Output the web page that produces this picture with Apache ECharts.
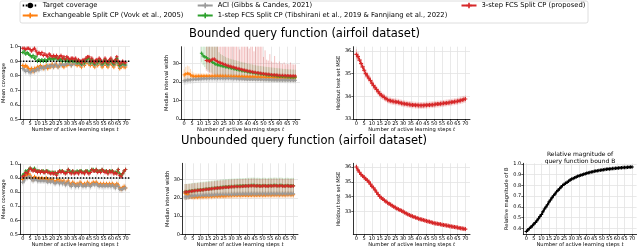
<!DOCTYPE html>
<html><head><meta charset="utf-8">
<script src="https://cdn.jsdelivr.net/npm/echarts@6/dist/echarts.min.js"></script>
<style>html,body{margin:0;padding:0;background:#fff}#c{width:640px;height:248px}</style>
</head><body><div id="c"></div>
<script>
const tSteps = [0,1,2,3,4,5,6,7,8,9,10,11,12,13,14,15,16,17,18,19,20,21,22,23,24,25,26,27,28,29,30,31,32,33,34,35,36,37,38,39,40,41,42,43,44,45,46,47,48,49,50,51,52,53,54,55,56,57,58,59,60,61,62,63,64,65,66,67,68,69,70];
const xTicks = [0,5,10,15,20,25,30,35,40,45,50,55,60,65,70];
const covTicks = [0.5,0.6,0.7,0.8,0.9,1.0];
const widthTicks = [0,10,20,30];
const mseTicks = [33,34,35,36];
const relTicks = [0.4,0.5,0.6,0.7,0.8,0.9,1.0];
const targetCoverage = 0.9;

const N_TARGET = 'Target coverage';
const N_EXCH = 'Exchangeable Split CP (Vovk et al., 2005)';
const N_ACI = 'ACI (Gibbs & Candes, 2021)';
const N_ONE = '1-step FCS Split CP (Tibshirani et al., 2019 & Fannjiang et al., 2022)';
const N_THREE = '3-step FCS Split CP (proposed)';

// ---- Bounded: mean coverage
const covB_orange = [0.87,0.86,0.87,0.86,0.85,0.84,0.85,0.83,0.85,0.84,0.86,0.85,0.87,0.86,0.85,0.86,0.87,0.85,0.87,0.86,0.88,0.86,0.87,0.88,0.86,0.87,0.88,0.87,0.86,0.88,0.87,0.88,0.89,0.87,0.88,0.89,0.88,0.87,0.88,0.87,0.86,0.88,0.87,0.89,0.90,0.88,0.87,0.89,0.87,0.86,0.88,0.87,0.89,0.88,0.86,0.87,0.89,0.87,0.86,0.88,0.89,0.87,0.86,0.88,0.90,0.87,0.85,0.86,0.87,0.86,0.86];
const covB_gray = [0.85,0.84,0.83,0.84,0.83,0.82,0.83,0.84,0.83,0.84,0.85,0.84,0.86,0.85,0.86,0.85,0.86,0.87,0.86,0.87,0.87,0.86,0.88,0.87,0.86,0.88,0.87,0.88,0.87,0.88,0.88,0.89,0.88,0.87,0.89,0.88,0.89,0.88,0.89,0.88,0.87,0.89,0.88,0.90,0.90,0.89,0.88,0.90,0.88,0.87,0.89,0.88,0.90,0.89,0.87,0.88,0.90,0.88,0.87,0.89,0.90,0.88,0.87,0.89,0.90,0.88,0.86,0.87,0.88,0.87,0.87];
const covB_green = [0.96,0.97,0.95,0.96,0.95,0.94,0.93,0.94,0.92,0.93,0.90,0.91,0.90,0.91,0.90,0.91,0.90,0.91,0.92,0.91,0.92,0.91,0.92,0.93,0.91,0.92,0.91,0.90,0.92,0.90,0.91,0.90,0.90,0.91,0.90,0.90,0.91,0.89,0.90,0.89,0.88,0.90,0.89,0.91,0.92,0.92,0.89,0.91,0.89,0.88,0.90,0.89,0.91,0.90,0.88,0.89,0.91,0.89,0.88,0.90,0.91,0.89,0.88,0.90,0.92,0.89,0.87,0.88,0.89,0.88,0.88];
const covB_red = [0.99,0.99,0.98,0.99,0.99,0.98,0.97,0.98,0.99,0.97,0.95,0.96,0.95,0.96,0.94,0.95,0.94,0.93,0.95,0.94,0.93,0.94,0.93,0.94,0.92,0.93,0.94,0.92,0.93,0.91,0.93,0.92,0.91,0.92,0.92,0.91,0.92,0.90,0.91,0.90,0.89,0.91,0.90,0.92,0.93,0.93,0.90,0.92,0.90,0.89,0.91,0.90,0.92,0.91,0.89,0.90,0.92,0.90,0.89,0.91,0.92,0.90,0.89,0.91,0.93,0.90,0.88,0.89,0.90,0.89,0.89];
const covBErr_orange = [0.018,0.019,0.018,0.019,0.020,0.020,0.019,0.021,0.020,0.019,0.018,0.019,0.018,0.018,0.019,0.018,0.017,0.018,0.017,0.018,0.017,0.018,0.017,0.017,0.018,0.017,0.017,0.018,0.018,0.017,0.017,0.017,0.016,0.017,0.017,0.016,0.017,0.017,0.017,0.017,0.018,0.017,0.017,0.016,0.016,0.017,0.017,0.016,0.017,0.018,0.017,0.017,0.016,0.017,0.018,0.017,0.016,0.017,0.018,0.017,0.016,0.017,0.018,0.017,0.016,0.017,0.018,0.018,0.017,0.018,0.018];
const covBErr_gray = [0.022,0.024,0.026,0.025,0.026,0.027,0.026,0.025,0.025,0.024,0.023,0.023,0.022,0.022,0.022,0.021,0.021,0.020,0.021,0.020,0.020,0.020,0.019,0.020,0.020,0.019,0.019,0.019,0.019,0.019,0.019,0.018,0.019,0.019,0.018,0.018,0.018,0.018,0.018,0.018,0.019,0.018,0.018,0.017,0.017,0.018,0.018,0.017,0.018,0.019,0.018,0.018,0.017,0.018,0.019,0.018,0.017,0.018,0.019,0.018,0.017,0.018,0.019,0.018,0.017,0.018,0.019,0.019,0.018,0.019,0.019];
const covBErr_green = [0.010,0.010,0.011,0.010,0.011,0.012,0.012,0.011,0.013,0.012,0.014,0.013,0.014,0.013,0.014,0.014,0.015,0.014,0.014,0.015,0.014,0.015,0.014,0.014,0.015,0.015,0.014,0.016,0.015,0.015,0.015,0.016,0.015,0.015,0.016,0.016,0.015,0.016,0.016,0.016,0.016,0.016,0.015,0.016,0.015,0.016,0.016,0.015,0.016,0.017,0.016,0.016,0.015,0.016,0.017,0.016,0.015,0.016,0.017,0.016,0.016,0.016,0.017,0.016,0.015,0.016,0.017,0.017,0.016,0.017,0.017];
const covBErr_red = [0.005,0.005,0.007,0.006,0.006,0.008,0.009,0.008,0.007,0.010,0.012,0.011,0.012,0.011,0.013,0.012,0.013,0.014,0.012,0.013,0.014,0.013,0.014,0.013,0.015,0.014,0.013,0.015,0.014,0.015,0.014,0.015,0.015,0.014,0.015,0.015,0.014,0.016,0.015,0.016,0.016,0.015,0.016,0.015,0.014,0.015,0.016,0.015,0.016,0.016,0.015,0.016,0.015,0.016,0.016,0.016,0.015,0.016,0.016,0.015,0.015,0.016,0.016,0.015,0.014,0.016,0.017,0.016,0.016,0.016,0.016];

// ---- Bounded: median interval width
const widB_orange = [23.8,24.3,24.6,24.4,23.8,23.2,23.0,22.9,23.0,23.0,23.1,23.0,23.1,23.0,23.1,23.1,23.0,23.1,23.1,23.0,23.0,23.1,23.0,23.0,23.0,22.9,23.0,22.9,22.9,22.9,22.9,22.8,22.9,22.8,22.8,22.8,22.7,22.8,22.7,22.7,22.7,22.6,22.7,22.6,22.6,22.6,22.5,22.6,22.5,22.5,22.5,22.4,22.5,22.4,22.4,22.4,22.3,22.4,22.3,22.3,22.3,22.3,22.2,22.3,22.2,22.2,22.2,22.2,22.1,22.2,22.2];
const widBErr_orange = [3.0,3.8,4.2,4.0,3.2,2.4,2.0,1.8,1.7,1.7,1.6,1.6,1.6,1.5,1.6,1.5,1.5,1.6,1.5,1.5,1.5,1.5,1.4,1.5,1.5,1.4,1.5,1.4,1.4,1.5,1.4,1.4,1.4,1.4,1.4,1.4,1.3,1.4,1.4,1.3,1.3,1.4,1.3,1.3,1.3,1.3,1.3,1.3,1.3,1.3,1.3,1.2,1.3,1.3,1.2,1.3,1.2,1.2,1.3,1.2,1.2,1.2,1.2,1.2,1.2,1.2,1.2,1.2,1.2,1.2,1.2];
const widB_gray = [20.6,20.8,21.0,21.1,21.2,21.3,21.4,21.5,21.5,21.6,21.6,21.7,21.7,21.8,21.7,21.8,21.8,21.9,21.8,21.9,21.9,21.8,21.9,21.9,21.8,21.9,21.8,21.8,21.9,21.8,21.8,21.7,21.8,21.7,21.7,21.6,21.7,21.6,21.6,21.5,21.5,21.5,21.4,21.5,21.4,21.4,21.3,21.4,21.3,21.3,21.3,21.2,21.3,21.2,21.2,21.2,21.1,21.2,21.1,21.1,21.1,21.0,21.1,21.0,21.0,21.0,21.0,20.9,21.0,20.9,20.9];
const widBErr_gray = [2.2,2.3,2.3,2.2,2.2,2.1,2.1,2.1,2.0,2.0,2.0,2.0,2.0,1.9,2.0,1.9,1.9,2.0,1.9,1.9,1.9,1.9,1.9,1.9,1.9,1.9,1.8,1.9,1.9,1.8,1.8,1.8,1.9,1.8,1.8,1.8,1.8,1.8,1.8,1.8,1.8,1.8,1.8,1.8,1.8,1.8,1.7,1.8,1.8,1.7,1.8,1.7,1.7,1.8,1.7,1.7,1.7,1.7,1.7,1.7,1.7,1.7,1.7,1.7,1.7,1.7,1.7,1.7,1.7,1.7,1.7];
const widB_green = [null,null,null,null,null,null,null,null,null,null,null,35.5,34.0,33.6,33.0,32.3,31.8,31.2,30.6,30.0,29.6,29.3,29.0,28.8,28.6,28.4,28.2,28.0,27.8,27.6,27.4,27.2,27.0,26.8,26.6,26.4,26.2,26.0,25.9,25.7,25.5,25.4,25.2,25.1,24.9,24.8,24.6,24.5,24.4,24.3,24.1,24.0,23.9,23.8,23.7,23.6,23.5,23.4,23.3,23.2,23.1,23.1,23.0,22.9,22.9,22.8,22.8,22.7,22.7,22.6,22.6];
const widBLo_green = [null,null,null,null,null,null,null,null,null,null,null,30.5,29.0,28.0,27.0,26.2,25.5,25.0,24.5,24.0,23.6,23.3,23.0,22.8,22.6,22.4,22.2,22.0,21.9,21.8,21.7,21.6,21.5,21.4,21.3,21.2,21.1,21.0,21.0,20.9,20.9,20.8,20.8,20.7,20.7,20.6,20.6,20.6,20.5,20.5,20.5,20.4,20.4,20.4,20.4,20.3,20.3,20.3,20.3,20.3,20.2,20.2,20.2,20.2,20.2,20.2,20.2,20.2,20.2,20.2,20.2];
const widBHi_green = [null,null,null,null,null,null,null,null,null,null,null,39,39,39,39,39,39,39,39,39,39,39,36.0,35.0,34.5,34.0,33.5,33.0,32.8,32.5,32.2,32.0,31.8,31.5,31.3,31.0,30.8,30.6,30.4,30.2,30.0,29.8,29.6,29.4,29.2,29.0,28.8,28.7,28.6,28.5,28.3,28.2,28.1,28.0,27.9,27.8,27.7,27.6,27.5,27.4,27.3,27.2,27.1,27.0,27.0,26.9,26.8,26.8,26.7,26.7,26.6];
const widB_red = [null,null,null,null,null,null,null,null,null,null,null,null,null,null,31.6,31.4,31.2,31.8,32.2,32.4,31.5,31.0,30.6,30.2,29.9,29.5,29.2,28.9,28.6,28.4,28.1,27.9,27.6,27.4,27.2,27.0,26.7,26.5,26.3,26.1,25.9,25.7,25.6,25.4,25.2,25.1,24.9,24.8,24.7,24.5,24.4,24.3,24.2,24.1,24.0,23.9,23.8,23.7,23.7,23.6,23.5,23.5,23.4,23.4,23.3,23.3,23.3,23.2,23.2,23.2,23.2];
const widBLo_red = [null,null,null,null,null,null,null,null,null,null,null,null,null,null,26.0,25.4,24.8,24.4,24.0,23.6,23.2,22.9,22.6,22.4,22.2,22.0,21.8,21.7,21.6,21.5,21.4,21.3,21.2,21.2,21.1,21.0,21.0,20.9,20.9,20.8,20.8,20.8,20.7,20.7,20.7,20.6,20.6,20.6,20.6,20.5,20.5,20.5,20.5,20.5,20.4,20.4,20.4,20.4,20.4,20.4,20.3,20.3,20.3,20.3,20.3,20.3,20.3,20.2,20.2,20.2,20.2];
const widBHi_red = [null,null,null,null,null,null,null,null,null,null,null,null,null,null,39,39,39,39,39,39,39,39,39,39,39,39,39,39,39,39,39,39,39,39,39,37.5,39,39,39,39,39,38.0,39,39,36.5,39,39,39,39,39,33.5,37.0,32.0,31.5,35.0,31.0,30.5,34.0,30.5,30.0,31.0,30.0,29.8,30.5,29.5,29.8,29.5,30.5,29.5,29.4,29.4];

// ---- Bounded: holdout MSE
const mseB = [35.85,35.75,35.6,35.45,35.3,35.15,35.0,34.9,34.8,34.7,34.58,34.48,34.38,34.3,34.2,34.12,34.05,34.0,33.95,33.9,33.85,33.82,33.8,33.78,33.77,33.76,33.75,33.74,33.72,33.7,33.68,33.67,33.66,33.65,33.64,33.63,33.62,33.62,33.61,33.61,33.6,33.6,33.6,33.6,33.61,33.61,33.62,33.62,33.63,33.63,33.64,33.65,33.66,33.66,33.67,33.68,33.69,33.7,33.71,33.72,33.73,33.74,33.75,33.76,33.77,33.78,33.8,33.82,33.84,33.86,33.88];
const mseBErr = [0.22,0.21,0.2,0.2,0.19,0.19,0.18,0.18,0.18,0.17,0.17,0.17,0.17,0.16,0.16,0.16,0.16,0.16,0.16,0.15,0.15,0.15,0.15,0.15,0.15,0.15,0.15,0.15,0.15,0.15,0.15,0.15,0.15,0.15,0.15,0.15,0.15,0.15,0.15,0.15,0.15,0.15,0.15,0.15,0.15,0.15,0.15,0.15,0.15,0.15,0.15,0.15,0.15,0.15,0.15,0.15,0.15,0.15,0.15,0.15,0.15,0.15,0.15,0.15,0.15,0.15,0.15,0.16,0.16,0.16,0.16];

// ---- Unbounded: mean coverage
const covU_orange = [0.89,0.90,0.92,0.91,0.93,0.92,0.90,0.89,0.91,0.90,0.89,0.90,0.89,0.90,0.89,0.89,0.90,0.88,0.89,0.88,0.89,0.88,0.87,0.88,0.89,0.87,0.88,0.87,0.88,0.86,0.87,0.88,0.86,0.85,0.87,0.86,0.85,0.86,0.85,0.87,0.86,0.85,0.86,0.85,0.87,0.86,0.85,0.86,0.87,0.86,0.87,0.86,0.85,0.86,0.85,0.86,0.85,0.86,0.85,0.86,0.85,0.86,0.85,0.84,0.86,0.85,0.83,0.82,0.83,0.84,0.83];
const covU_gray = [0.87,0.88,0.90,0.90,0.91,0.91,0.89,0.88,0.89,0.89,0.88,0.88,0.88,0.88,0.88,0.88,0.88,0.87,0.88,0.87,0.88,0.87,0.86,0.87,0.87,0.86,0.87,0.86,0.87,0.85,0.86,0.87,0.85,0.84,0.86,0.85,0.84,0.85,0.84,0.86,0.85,0.84,0.85,0.84,0.86,0.85,0.84,0.85,0.86,0.85,0.86,0.85,0.84,0.85,0.84,0.85,0.84,0.85,0.84,0.85,0.84,0.85,0.84,0.83,0.85,0.84,0.82,0.82,0.82,0.83,0.83];
const covU_green = [0.92,0.93,0.95,0.94,0.96,0.97,0.96,0.96,0.97,0.95,0.95,0.95,0.94,0.95,0.95,0.94,0.95,0.95,0.94,0.94,0.94,0.94,0.94,0.93,0.94,0.95,0.95,0.95,0.94,0.94,0.94,0.96,0.95,0.94,0.95,0.94,0.94,0.95,0.94,0.95,0.95,0.94,0.94,0.95,0.95,0.94,0.95,0.96,0.96,0.95,0.96,0.95,0.95,0.95,0.96,0.95,0.95,0.95,0.94,0.95,0.95,0.95,0.94,0.94,0.94,0.96,0.93,0.92,0.93,0.95,0.96];
const covU_red = [0.91,0.92,0.94,0.93,0.95,0.97,0.96,0.95,0.96,0.95,0.94,0.95,0.94,0.95,0.94,0.94,0.95,0.94,0.94,0.93,0.94,0.93,0.94,0.92,0.94,0.95,0.94,0.95,0.94,0.93,0.94,0.96,0.94,0.93,0.95,0.93,0.94,0.94,0.93,0.95,0.94,0.94,0.93,0.95,0.94,0.93,0.94,0.96,0.95,0.95,0.96,0.94,0.95,0.94,0.96,0.95,0.94,0.95,0.93,0.95,0.94,0.95,0.93,0.94,0.93,0.96,0.92,0.91,0.93,0.95,0.96];
const covUErr_orange = [0.020,0.019,0.018,0.018,0.017,0.018,0.018,0.019,0.018,0.018,0.018,0.018,0.019,0.018,0.018,0.019,0.018,0.019,0.019,0.018,0.019,0.019,0.020,0.019,0.019,0.020,0.019,0.020,0.019,0.020,0.020,0.019,0.020,0.021,0.020,0.020,0.021,0.020,0.021,0.020,0.020,0.021,0.020,0.021,0.020,0.020,0.021,0.020,0.020,0.021,0.020,0.021,0.021,0.020,0.021,0.021,0.021,0.020,0.021,0.021,0.021,0.020,0.021,0.022,0.021,0.021,0.022,0.022,0.022,0.021,0.022];
const covUErr_gray = [0.024,0.023,0.022,0.022,0.021,0.021,0.022,0.022,0.021,0.022,0.022,0.022,0.022,0.022,0.022,0.022,0.022,0.023,0.022,0.022,0.022,0.023,0.023,0.022,0.023,0.023,0.022,0.023,0.023,0.023,0.023,0.023,0.023,0.024,0.023,0.023,0.024,0.023,0.024,0.023,0.023,0.024,0.023,0.024,0.023,0.023,0.024,0.024,0.023,0.024,0.023,0.024,0.024,0.024,0.024,0.024,0.024,0.023,0.024,0.024,0.024,0.024,0.024,0.025,0.024,0.024,0.025,0.025,0.025,0.024,0.025];
const covUErr_green = [0.016,0.015,0.013,0.013,0.012,0.010,0.011,0.011,0.010,0.012,0.012,0.012,0.013,0.012,0.012,0.013,0.012,0.012,0.013,0.013,0.013,0.013,0.013,0.014,0.013,0.012,0.012,0.012,0.013,0.013,0.013,0.011,0.012,0.013,0.012,0.013,0.013,0.012,0.013,0.012,0.012,0.013,0.013,0.012,0.012,0.013,0.012,0.011,0.011,0.012,0.011,0.012,0.012,0.012,0.011,0.012,0.012,0.012,0.013,0.012,0.012,0.012,0.013,0.013,0.013,0.011,0.014,0.015,0.014,0.012,0.011];
const covUErr_red = [0.017,0.016,0.014,0.014,0.013,0.011,0.012,0.012,0.011,0.012,0.013,0.012,0.013,0.012,0.013,0.013,0.012,0.013,0.013,0.013,0.013,0.013,0.013,0.014,0.013,0.012,0.013,0.012,0.013,0.013,0.013,0.011,0.013,0.013,0.012,0.013,0.013,0.013,0.013,0.012,0.013,0.013,0.013,0.012,0.013,0.013,0.013,0.011,0.012,0.012,0.011,0.013,0.012,0.013,0.011,0.012,0.013,0.012,0.013,0.012,0.013,0.012,0.013,0.013,0.013,0.011,0.014,0.015,0.014,0.012,0.011];

// ---- Unbounded: median interval width
const widU_orange = [22.6,22.1,21.6,21.1,20.8,20.6,20.5,20.6,20.5,20.6,20.7,20.6,20.7,20.8,20.7,20.8,20.9,20.8,20.9,21.0,21.0,21.1,21.0,21.1,21.2,21.1,21.2,21.2,21.3,21.2,21.3,21.3,21.4,21.3,21.4,21.4,21.3,21.4,21.5,21.4,21.5,21.5,21.4,21.5,21.6,21.5,21.5,21.6,21.5,21.6,21.6,21.5,21.6,21.6,21.7,21.6,21.6,21.7,21.6,21.7,21.7,21.6,21.7,21.7,21.6,21.7,21.7,21.8,21.7,21.7,21.7];
const widUErr_orange = [2.2,2.0,1.9,1.8,1.8,1.7,1.7,1.7,1.7,1.7,1.7,1.7,1.7,1.7,1.7,1.7,1.7,1.7,1.7,1.7,1.7,1.7,1.7,1.7,1.7,1.7,1.7,1.7,1.7,1.7,1.7,1.7,1.7,1.7,1.7,1.7,1.7,1.7,1.7,1.7,1.7,1.7,1.7,1.7,1.7,1.7,1.7,1.7,1.7,1.7,1.7,1.7,1.7,1.7,1.7,1.7,1.7,1.7,1.7,1.7,1.7,1.7,1.7,1.7,1.7,1.7,1.7,1.7,1.7,1.7,1.7];
const widU_gray = [20.5,20.6,20.8,21.0,21.1,21.1,21.2,21.2,21.3,21.3,21.3,21.4,21.4,21.4,21.5,21.5,21.5,21.6,21.6,21.6,21.7,21.7,21.7,21.8,21.8,21.8,21.8,21.9,21.9,21.9,21.9,22.0,22.0,22.0,22.0,22.1,22.0,22.1,22.1,22.1,22.1,22.2,22.1,22.2,22.2,22.2,22.1,22.2,22.2,22.2,22.2,22.3,22.2,22.2,22.3,22.2,22.3,22.3,22.2,22.3,22.3,22.3,22.2,22.3,22.3,22.3,22.2,22.3,22.3,22.3,22.3];
const widUErr_gray = [1.8,1.7,1.7,1.6,1.6,1.6,1.6,1.6,1.6,1.6,1.6,1.6,1.6,1.6,1.6,1.6,1.6,1.6,1.6,1.6,1.6,1.6,1.6,1.6,1.6,1.6,1.6,1.6,1.6,1.6,1.6,1.6,1.6,1.6,1.6,1.6,1.6,1.6,1.6,1.6,1.6,1.6,1.6,1.6,1.6,1.6,1.6,1.6,1.6,1.6,1.6,1.6,1.6,1.6,1.6,1.6,1.6,1.6,1.6,1.6,1.6,1.6,1.6,1.6,1.6,1.6,1.6,1.6,1.6,1.6,1.6];
const widU_green = [23.3,23.4,23.5,23.6,23.8,23.9,24.0,24.1,24.2,24.3,24.4,24.5,24.6,24.7,24.8,24.9,25.0,25.1,25.2,25.3,25.4,25.5,25.6,25.7,25.8,25.9,26.0,26.0,26.1,26.2,26.2,26.3,26.3,26.4,26.4,26.5,26.5,26.5,26.6,26.6,26.7,26.7,26.8,26.8,26.9,26.8,26.7,26.8,26.7,26.6,26.7,26.8,26.7,26.6,26.7,26.8,26.7,26.8,26.9,26.8,26.7,26.8,26.9,26.7,26.6,26.7,26.8,26.7,26.6,26.7,26.7];
const widUErr_green = [4.3,4.3,4.3,4.3,4.3,4.3,4.3,4.3,4.3,4.3,4.3,4.3,4.3,4.3,4.3,4.3,4.3,4.3,4.3,4.3,4.3,4.3,4.3,4.3,4.3,4.3,4.3,4.3,4.3,4.3,4.3,4.3,4.3,4.3,4.3,4.3,4.3,4.3,4.3,4.3,4.3,4.3,4.3,4.3,4.3,4.3,4.3,4.3,4.3,4.3,4.3,4.3,4.3,4.3,4.3,4.3,4.3,4.3,4.3,4.3,4.3,4.3,4.3,4.3,4.3,4.3,4.3,4.3,4.3,4.3,4.3];
const widU_red = [23.2,23.3,23.4,23.5,23.6,23.8,23.9,24.0,24.1,24.2,24.3,24.4,24.5,24.6,24.7,24.8,24.9,25.0,25.1,25.2,25.3,25.4,25.5,25.6,25.6,25.7,25.8,25.9,25.9,26.0,26.1,26.1,26.2,26.2,26.3,26.3,26.3,26.4,26.4,26.5,26.5,26.5,26.6,26.6,26.7,26.6,26.5,26.6,26.5,26.4,26.5,26.6,26.5,26.4,26.5,26.6,26.5,26.6,26.7,26.6,26.5,26.6,26.7,26.5,26.4,26.5,26.6,26.5,26.4,26.5,26.5];
const widUErr_red = [4.4,4.3,4.3,4.2,4.2,4.2,4.2,4.1,4.1,4.1,4.1,4.1,4.0,4.0,4.0,4.0,4.0,4.0,4.0,4.0,4.0,4.0,4.0,4.0,4.0,4.0,4.0,4.0,4.0,4.0,4.0,4.0,4.0,4.0,4.0,4.0,4.0,4.0,4.0,4.0,4.0,4.0,4.0,4.0,4.0,4.0,4.0,4.0,4.0,4.0,4.0,4.0,4.0,4.0,4.0,4.0,4.0,4.0,4.0,4.0,4.0,4.0,4.0,4.0,4.0,4.0,4.0,4.0,4.0,4.0,4.0];

// ---- Unbounded: holdout MSE
const mseU = [36.0,35.8,35.65,35.5,35.4,35.3,35.2,35.1,35.0,34.85,34.7,34.6,34.45,34.3,34.15,34.02,33.92,33.85,33.75,33.68,33.6,33.53,33.47,33.4,33.33,33.27,33.2,33.15,33.1,33.05,33.0,32.93,32.87,32.82,32.77,32.72,32.68,32.64,32.6,32.56,32.52,32.49,32.46,32.43,32.4,32.37,32.34,32.31,32.28,32.25,32.22,32.2,32.18,32.16,32.14,32.12,32.1,32.08,32.06,32.04,32.02,32.0,31.98,31.96,31.94,31.92,31.9,31.88,31.86,31.84,31.82];
const mseUErr = [0.18,0.17,0.17,0.16,0.16,0.16,0.16,0.16,0.16,0.16,0.16,0.16,0.16,0.16,0.16,0.15,0.15,0.15,0.15,0.15,0.15,0.15,0.15,0.15,0.15,0.15,0.15,0.15,0.15,0.15,0.15,0.15,0.15,0.15,0.15,0.15,0.15,0.15,0.15,0.15,0.15,0.15,0.15,0.15,0.15,0.15,0.15,0.15,0.15,0.15,0.15,0.15,0.15,0.15,0.15,0.15,0.15,0.15,0.15,0.15,0.15,0.15,0.15,0.15,0.15,0.15,0.15,0.15,0.15,0.15,0.15];

// ---- Unbounded: relative magnitude of B
const relB = [0.37,0.385,0.40,0.41,0.425,0.44,0.455,0.47,0.49,0.51,0.53,0.555,0.58,0.60,0.62,0.645,0.665,0.685,0.705,0.72,0.74,0.755,0.77,0.785,0.80,0.81,0.82,0.83,0.84,0.85,0.86,0.865,0.872,0.879,0.885,0.89,0.895,0.90,0.905,0.909,0.913,0.917,0.921,0.925,0.928,0.931,0.934,0.937,0.939,0.942,0.944,0.946,0.948,0.95,0.952,0.954,0.955,0.957,0.958,0.96,0.961,0.962,0.964,0.965,0.966,0.967,0.968,0.969,0.97,0.971,0.972];

// ================= rendering =================
const COL = {orange:'#ff7f0e', gray:'#9a9a9a', green:'#2ca02c', red:'#d62728', black:'#000000'};
const FONT = 'DejaVu Sans';
const PLUS = 'path://M0,3.6H10V6.4H0Z M3.6,0H6.4V10H3.6Z';

function pts(arr){ const o=[]; arr.forEach((v,i)=>{ if(v!==null) o.push([tSteps[i], v]); }); return o; }
function errSym(mean, err){ const o=[]; mean.forEach((v,i)=>{ if(v!==null) o.push([tSteps[i], v-err[i], v+err[i]]); }); return o; }
function errLH(lo, hi){ const o=[]; lo.forEach((v,i)=>{ if(v!==null) o.push([tSteps[i], v, hi[i]]); }); return o; }

function errRender(params, api){
  const x = api.value(0);
  const a = api.coord([x, api.value(1)]);
  const b = api.coord([x, api.value(2)]);
  return {type:'line', shape:{x1:a[0],y1:a[1],x2:b[0],y2:b[1]}, style:{stroke: api.visual('color'), lineWidth:0.9, opacity:0.32}};
}
function errSeries(g, data, color){
  return {type:'custom', xAxisIndex:g, yAxisIndex:g, renderItem:errRender, data:data, encode:{x:0,y:[1,2]}, itemStyle:{color:color}, silent:true, z:1};
}
function lineSeries(g, name, data, color, lw, ss){
  return {type:'line', name:name, xAxisIndex:g, yAxisIndex:g, data:pts(data), symbol:PLUS, symbolSize:ss||3.5, showSymbol:true,
    itemStyle:{color:color}, lineStyle:{color:color, width:lw||1}, silent:true, z:3};
}
function targetSeries(g){
  return {type:'line', name:N_TARGET, xAxisIndex:g, yAxisIndex:g, data:[[-2,targetCoverage],[73,targetCoverage]], symbol:'none', showSymbol:false,
    itemStyle:{color:'#000'}, lineStyle:{color:'#000', width:1.4, type:[1.5,1.5]}, silent:true, z:4};
}

const grids = [
  {left:15.7, top:46.7, width:114.3, height:72.6},
  {left:181, top:46.7, width:119, height:72.3},
  {left:353.3, top:46.7, width:116.7, height:72.3},
  {left:16, top:164, width:114, height:71},
  {left:182, top:163.3, width:116, height:71.7},
  {left:353.3, top:163.3, width:116.7, height:71.7},
  {left:523.3, top:163.3, width:113.3, height:71.7}
];

function xAx(g){
  return {type:'value', gridIndex:g, min:-2, max:73,
    axisLine:{show:true, onZero:false, lineStyle:{color:'#000', width:0.8}},
    axisTick:{show:true, length:2, lineStyle:{color:'#000', width:0.6}, customValues:xTicks},
    axisLabel:{fontSize:5, margin:1.8, color:'#000', fontFamily:FONT, customValues:xTicks},
    splitLine:{show:true, lineStyle:{color:'#e3e3e3', width:0.8}},
    name:'Number of active learning steps {i|t}', nameLocation:'middle', nameGap:6.5,
    nameTextStyle:{fontSize:5.2, color:'#000', fontFamily:FONT, rich:{i:{fontSize:5.2, fontStyle:'italic', fontFamily:FONT, color:'#000'}}}
  };
}
function yAx(g, min, max, ticks, fmt, name, gap){
  return {type:'value', gridIndex:g, min:min, max:max,
    axisLine:{show:true, onZero:false, lineStyle:{color:'#000', width:0.8}},
    axisTick:{show:true, length:2, lineStyle:{color:'#000', width:0.6}, customValues:ticks},
    axisLabel:{fontSize:5, margin:2, color:'#000', fontFamily:FONT, customValues:ticks, formatter:fmt},
    splitLine:{show:true, lineStyle:{color:'#e3e3e3', width:0.8}},
    name:name, nameLocation:'middle', nameGap:gap, nameRotate:90,
    nameTextStyle:{fontSize:5.2, color:'#000', fontFamily:FONT}
  };
}
const f1 = v => v.toFixed(1);
const f0 = v => String(Math.round(v));

const series = [
  errSeries(0, errSym(covB_orange, covBErr_orange), COL.orange),
  errSeries(0, errSym(covB_gray, covBErr_gray), COL.gray),
  errSeries(0, errSym(covB_green, covBErr_green), COL.green),
  errSeries(0, errSym(covB_red, covBErr_red), COL.red),
  lineSeries(0, N_EXCH, covB_orange, COL.orange),
  lineSeries(0, N_ACI, covB_gray, COL.gray),
  lineSeries(0, N_ONE, covB_green, COL.green),
  lineSeries(0, N_THREE, covB_red, COL.red),
  targetSeries(0),
  errSeries(1, errSym(widB_orange, widBErr_orange), COL.orange),
  errSeries(1, errSym(widB_gray, widBErr_gray), COL.gray),
  errSeries(1, errLH(widBLo_green, widBHi_green), COL.green),
  errSeries(1, errLH(widBLo_red, widBHi_red), COL.red),
  lineSeries(1, N_EXCH, widB_orange, COL.orange),
  lineSeries(1, N_ACI, widB_gray, COL.gray),
  lineSeries(1, N_ONE, widB_green, COL.green),
  lineSeries(1, N_THREE, widB_red, COL.red),
  errSeries(2, errSym(mseB, mseBErr), COL.red),
  lineSeries(2, N_THREE, mseB, COL.red, 1.3, 4),
  errSeries(3, errSym(covU_orange, covUErr_orange), COL.orange),
  errSeries(3, errSym(covU_gray, covUErr_gray), COL.gray),
  errSeries(3, errSym(covU_green, covUErr_green), COL.green),
  errSeries(3, errSym(covU_red, covUErr_red), COL.red),
  lineSeries(3, N_EXCH, covU_orange, COL.orange),
  lineSeries(3, N_ACI, covU_gray, COL.gray),
  lineSeries(3, N_ONE, covU_green, COL.green),
  lineSeries(3, N_THREE, covU_red, COL.red),
  targetSeries(3),
  errSeries(4, errSym(widU_orange, widUErr_orange), COL.orange),
  errSeries(4, errSym(widU_gray, widUErr_gray), COL.gray),
  errSeries(4, errSym(widU_green, widUErr_green), COL.green),
  errSeries(4, errSym(widU_red, widUErr_red), COL.red),
  lineSeries(4, N_EXCH, widU_orange, COL.orange),
  lineSeries(4, N_ACI, widU_gray, COL.gray),
  lineSeries(4, N_ONE, widU_green, COL.green),
  lineSeries(4, N_THREE, widU_red, COL.red),
  errSeries(5, errSym(mseU, mseUErr), COL.red),
  lineSeries(5, N_THREE, mseU, COL.red, 1.3, 4),
  lineSeries(6, 'Relative magnitude of B', relB, COL.black, 1.6, 3.5)
];

const legendBase = {orient:'vertical', top:2, itemWidth:15, itemHeight:7, itemGap:3, padding:0, selectedMode:false,
  textStyle:{fontSize:6.8, color:'#000', fontFamily:FONT}};

const option = {
  animation:false,
  textStyle:{fontFamily:FONT},
  grid: grids,
  xAxis: grids.map((g,i)=>xAx(i)),
  yAxis: [
    yAx(0, 0.5, 1.0, covTicks, f1, 'Mean coverage', 8.5),
    yAx(1, 0, 39, widthTicks, f0, 'Median interval width', 7),
    yAx(2, 33, 36.19, mseTicks, f0, 'Holdout test set MSE', 9.5),
    yAx(3, 0.5, 1.0, covTicks, f1, 'Mean coverage', 8.5),
    yAx(4, 0, 39, widthTicks, f0, 'Median interval width', 8),
    yAx(5, 31.47, 36.25, mseTicks, f0, 'Holdout test set MSE', 9.5),
    yAx(6, 0.345, 1.006, relTicks, f1, 'Relative magnitude of B', 10)
  ],
  legend: [
    Object.assign({}, legendBase, {left:21.7, data:[N_TARGET, N_EXCH]}),
    Object.assign({}, legendBase, {left:196.7, data:[N_ACI, N_ONE]}),
    Object.assign({}, legendBase, {left:460.5, data:[N_THREE]})
  ],
  graphic: [
    {type:'rect', shape:{x:20, y:1, width:568, height:22, r:2}, style:{fill:'#fff', stroke:'#d6d6d6', lineWidth:0.8}, z:-10, silent:true},
    {type:'text', x:304.5, y:34, style:{text:'Bounded query function (airfoil dataset)', font:'11.5px "DejaVu Sans"', fill:'#000', textAlign:'center', textVerticalAlign:'middle'}, silent:true},
    {type:'text', x:304, y:141, style:{text:'Unbounded query function (airfoil dataset)', font:'11.5px "DejaVu Sans"', fill:'#000', textAlign:'center', textVerticalAlign:'middle'}, silent:true},
    {type:'text', x:580, y:157.5, style:{text:'Relative magnitude of\nquery function bound B', font:'6px "DejaVu Sans"', lineHeight:7, fill:'#000', textAlign:'center', textVerticalAlign:'middle'}, silent:true}
  ],
  series: series
};
const chart = echarts.init(document.getElementById('c'), null, {renderer:'canvas'});
chart.setOption(option);
</script></body></html>
